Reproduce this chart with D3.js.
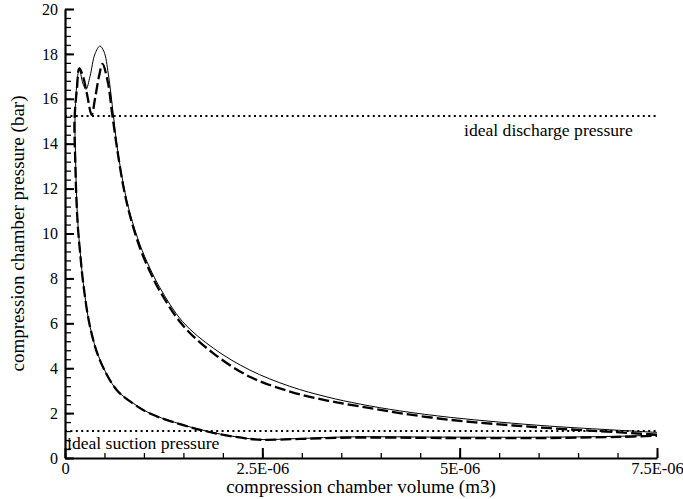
<!DOCTYPE html>
<html>
<head>
<meta charset="utf-8">
<script src="https://cdn.jsdelivr.net/npm/d3@7/dist/d3.min.js"></script>
<style>
  body { margin: 0; background: #fff; }
  text { font-family: "Liberation Serif", "Times New Roman", serif; fill: #000; }
  .axis path, .axis line { stroke: #000; }
</style>
</head>
<body>
<div id="chart"></div>
<script>
var serif = '"Liberation Serif", "Times New Roman", serif';

// chamber volume (m3) and pressure (bar), cycle order: compression, discharge, expansion
var solidVolume = [7.50e-6, 6.99e-6, 6.14e-6, 5.50e-6, 4.88e-6, 4.24e-6, 3.74e-6, 3.32e-6, 2.85e-6, 2.34e-6,
  1.88e-6, 1.49e-6, 1.20e-6, 1.07e-6, 0.95e-6, 0.823e-6, 0.739e-6, 0.655e-6, 0.612e-6, 0.549e-6, 0.494e-6,
  0.443e-6, 0.380e-6, 0.317e-6, 0.266e-6, 0.225e-6, 0.181e-6, 0.152e-6, 0.127e-6, 0.133e-6, 0.148e-6,
  0.168e-6, 0.190e-6, 0.232e-6, 0.317e-6, 0.443e-6, 0.655e-6, 0.865e-6, 1.077e-6, 1.50e-6, 1.92e-6,
  2.34e-6, 2.51e-6, 2.98e-6, 3.61e-6, 4.88e-6, 6.14e-6, 7.03e-6, 7.50e-6];
var solidPressure = [1.14, 1.24, 1.42, 1.60, 1.81, 2.10, 2.40, 2.72, 3.19, 3.92,
  4.89, 6.07, 7.60, 8.50, 9.50, 10.9, 12.2, 14.0, 15.3, 17.1, 18.1,
  18.35, 18.0, 17.0, 16.42, 16.7, 17.36, 16.7, 15.2, 13.5, 11.5,
  10.2, 9.27, 7.78, 5.85, 4.37, 3.03, 2.44, 1.99, 1.47, 1.10,
  0.86, 0.82, 0.87, 0.94, 0.93, 0.93, 0.97, 1.02];

var dashedVolume = [7.50e-6, 6.99e-6, 6.14e-6, 5.50e-6, 4.88e-6, 4.24e-6, 3.74e-6, 3.32e-6, 2.85e-6, 2.34e-6,
  1.88e-6, 1.49e-6, 1.20e-6, 1.07e-6, 0.95e-6, 0.823e-6, 0.739e-6, 0.655e-6, 0.595e-6, 0.545e-6, 0.475e-6,
  0.431e-6, 0.380e-6, 0.338e-6, 0.279e-6, 0.228e-6, 0.181e-6, 0.152e-6, 0.120e-6, 0.128e-6, 0.145e-6,
  0.165e-6, 0.190e-6, 0.232e-6, 0.317e-6, 0.443e-6, 0.655e-6, 0.865e-6, 1.077e-6, 1.50e-6, 1.92e-6,
  2.34e-6, 2.51e-6, 2.98e-6, 3.61e-6, 4.88e-6, 6.14e-6, 7.03e-6, 7.50e-6];
var dashedPressure = [1.04, 1.15, 1.33, 1.50, 1.70, 2.00, 2.30, 2.56, 2.96, 3.62,
  4.66, 5.92, 7.45, 8.35, 9.35, 10.8, 12.1, 13.9, 15.4, 16.7, 17.55,
  17.0, 16.0, 15.28, 16.2, 17.0, 17.36, 16.5, 15.0, 13.5, 11.5,
  10.2, 9.2, 7.75, 5.85, 4.35, 3.03, 2.42, 1.98, 1.46, 1.09,
  0.85, 0.81, 0.85, 0.91, 0.89, 0.89, 0.94, 0.99];

var idealDischarge = 15.23;
var idealSuction = 1.2;

var xTicks = [0, 2.5e-6, 5e-6, 7.5e-6];
var xTickLabels = ["0", "2.5E-06", "5E-06", "7.5E-06"];
var xMinor = d3.range(0, 7.5e-6 + 1e-9, 0.5e-6);
var yTicks = d3.range(0, 21, 2);
var yMinor = d3.range(0, 20.01, 0.4);

var width = 683, height = 499;
var margin = { top: 9, right: 26, bottom: 41, left: 65 };

var svg = d3.select("#chart").append("svg")
  .attr("width", width)
  .attr("height", height);

var x = d3.scaleLinear().domain([0, 7.5e-6]).range([margin.left, width - margin.right]);
var y = d3.scaleLinear().domain([0, 20]).range([height - margin.bottom, margin.top]);

// minor ticks
svg.append("g")
  .attr("class", "axis")
  .attr("transform", "translate(" + margin.left + ",0)")
  .call(d3.axisLeft(y).tickValues(yMinor).tickSizeInner(-6).tickSizeOuter(0).tickFormat(""))
  .call(function(g) { g.select(".domain").remove(); })
  .selectAll("line").attr("stroke-width", 1.3);

svg.append("g")
  .attr("class", "axis")
  .attr("transform", "translate(0," + (height - margin.bottom) + ")")
  .call(d3.axisBottom(x).tickValues(xMinor).tickSizeInner(-5).tickSizeOuter(0).tickFormat(""))
  .call(function(g) { g.select(".domain").remove(); })
  .selectAll("line").attr("stroke-width", 1.3);

// major ticks + labels
var yAxis = svg.append("g")
  .attr("class", "axis")
  .attr("transform", "translate(" + margin.left + ",0)")
  .call(d3.axisLeft(y).tickValues(yTicks).tickSizeInner(-9).tickSizeOuter(0).tickPadding(7));
yAxis.attr("font-family", serif).attr("font-size", 16);
yAxis.select(".domain").attr("stroke-width", 2.2);
yAxis.selectAll("line").attr("stroke-width", 2);

var xAxis = svg.append("g")
  .attr("class", "axis")
  .attr("transform", "translate(0," + (height - margin.bottom) + ")")
  .call(d3.axisBottom(x).tickValues(xTicks).tickSizeInner(-10).tickSizeOuter(0).tickPadding(4)
    .tickFormat(function(d, i) { return xTickLabels[i]; }));
xAxis.attr("font-family", serif).attr("font-size", 16.5);
xAxis.select(".domain").attr("stroke-width", 2.2);
xAxis.selectAll("line").attr("stroke-width", 2);

// ideal pressure lines
[idealDischarge, idealSuction].forEach(function(p) {
  svg.append("line")
    .attr("x1", x(0)).attr("x2", x(7.5e-6))
    .attr("y1", y(p)).attr("y2", y(p))
    .attr("stroke", "#000")
    .attr("stroke-width", 2)
    .attr("stroke-dasharray", "2,3.4");
});

svg.append("text")
  .attr("x", 464)
  .attr("y", y(idealDischarge) + 20)
  .attr("font-family", serif)
  .style("font-size", "17.6px")
  .text("ideal discharge pressure");

svg.append("text")
  .attr("x", 67)
  .attr("y", y(idealSuction) + 18)
  .attr("font-family", serif)
  .style("font-size", "17.6px")
  .text("ideal suction pressure");

var line = d3.line()
  .x(function(d) { return x(d[0]); })
  .y(function(d) { return y(d[1]); })
  .curve(d3.curveCatmullRom.alpha(0.5));

var solid = d3.zip(solidVolume, solidPressure);
var dashed = d3.zip(dashedVolume, dashedPressure);

svg.append("path")
  .datum(dashed)
  .attr("fill", "none")
  .attr("stroke", "#000")
  .attr("stroke-width", 2.3)
  .attr("stroke-dasharray", "11,4")
  .attr("d", line);

svg.append("path")
  .datum(solid)
  .attr("fill", "none")
  .attr("stroke", "#000")
  .attr("stroke-width", 1)
  .attr("d", line);

// axis titles
svg.append("text")
  .attr("x", (x(0) + x(7.5e-6)) / 2)
  .attr("y", 493)
  .attr("text-anchor", "middle")
  .attr("font-family", serif)
  .style("font-size", "19px")
  .text("compression chamber volume (m3)");

svg.append("text")
  .attr("transform", "translate(24," + ((y(0) + y(20)) / 2) + ")rotate(-90)")
  .attr("text-anchor", "middle")
  .attr("font-family", serif)
  .style("font-size", "19px")
  .text("compression chamber pressure (bar)");
</script>
</body>
</html>
